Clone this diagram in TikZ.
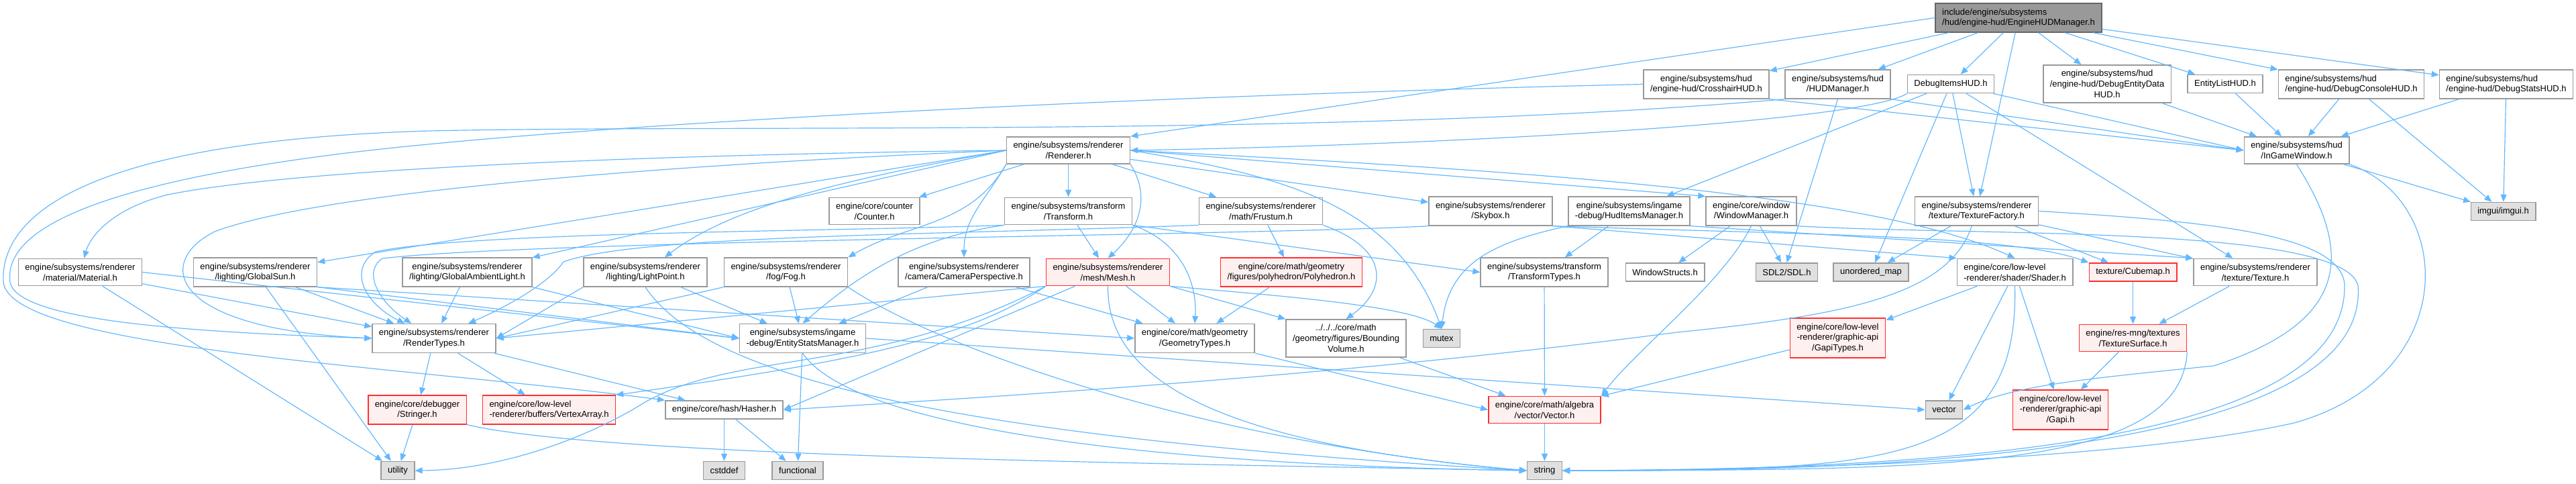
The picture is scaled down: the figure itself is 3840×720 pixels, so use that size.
\documentclass[tikz,border=0pt]{standalone}
\usepackage{fontspec}
\setmainfont{Liberation Sans}
\usetikzlibrary{arrows.meta}
\definecolor{edgeblue}{HTML}{63B8FF}
\definecolor{boxgray}{HTML}{999999}
\definecolor{rootgray}{HTML}{666666}
\definecolor{sysgray}{HTML}{E0E0E0}
\definecolor{truncpink}{HTML}{FFF0F0}
\definecolor{truncred}{HTML}{FF3030}

\begin{document}
\begin{tikzpicture}[
  x=1pt, y=-1pt,
  file/.style={draw=boxgray, fill=white, line width=1.5pt, align=center, inner xsep=10pt, inner ysep=7.5pt, minimum height=27pt, font=\fontsize{13}{15.7}\selectfont},
  rootfile/.style={file, draw=rootgray, fill=boxgray, align=left},
  sysfile/.style={file, fill=sysgray},
  truncfile/.style={file, draw=truncred, fill=truncpink},
  incl/.style={edgeblue, line width=1.2pt, -{Triangle[length=11pt,width=9pt]}}
]
\useasboundingbox (0,0) rectangle (3840,720);

\node[rootfile] (hudmgr) at (3009,26.5) {include/engine/subsystems\\/hud/engine-hud/EngineHUDManager.h};
\node[file] (crosshair) at (2543.5,125.5) {engine/subsystems/hud\\/engine-hud/CrosshairHUD.h};
\node[file] (hudman) at (2739.5,125.5) {engine/subsystems/hud\\/HUDManager.h};
\node[file] (dbgitems) at (2908,125) {DebugItemsHUD.h};
\node[file] (dbgentity) at (3141,125) {engine/subsystems/hud\\/engine-hud/DebugEntityData\\HUD.h};
\node[file] (entlist) at (3317,125) {EntityListHUD.h};
\node[file, align=left] (dbgconsole) at (3505,125.5) {engine/subsystems/hud\\/engine-hud/DebugConsoleHUD.h};
\node[file, align=left] (dbgstats) at (3736,125.5) {engine/subsystems/hud\\/engine-hud/DebugStatsHUD.h};
\node[file] (renderer) at (1592.5,224) {engine/subsystems/renderer\\/Renderer.h};
\node[file] (ingame) at (3423.5,224) {engine/subsystems/hud\\/InGameWindow.h};
\node[sysfile] (imgui) at (3731.5,315) {imgui/imgui.h};
\node[file] (counter) at (1303.5,314.5) {engine/core/counter\\/Counter.h};
\node[file] (transform) at (1592.5,314.5) {engine/subsystems/transform\\/Transform.h};
\node[file] (frustum) at (1879.5,314.5) {engine/subsystems/renderer\\/math/Frustum.h};
\node[file] (skybox) at (2222,314.5) {engine/subsystems/renderer\\/Skybox.h};
\node[file] (huditems) at (2428.5,314.5) {engine/subsystems/ingame\\-debug/HudItemsManager.h};
\node[file] (winmgr) at (2610.5,314.5) {engine/core/window\\/WindowManager.h};
\node[file] (texfactory) at (2946.5,314.5) {engine/subsystems/renderer\\/texture/TextureFactory.h};
\node[file] (material) at (119.5,405.5) {engine/subsystems/renderer\\/material/Material.h};
\node[file] (globalsun) at (380.5,405.5) {engine/subsystems/renderer\\/lighting/GlobalSun.h};
\node[file] (ambient) at (696.5,405.5) {engine/subsystems/renderer\\/lighting/GlobalAmbientLight.h};
\node[file] (lightpoint) at (962,405.5) {engine/subsystems/renderer\\/lighting/LightPoint.h};
\node[file] (fog) at (1171.5,405.5) {engine/subsystems/renderer\\/fog/Fog.h};
\node[file] (camera) at (1437,405.5) {engine/subsystems/renderer\\/camera/CameraPerspective.h};
\node[truncfile] (mesh) at (1651.5,405.5) {engine/subsystems/renderer\\/mesh/Mesh.h};
\node[truncfile] (polyhedron) at (1925,405.5) {engine/core/math/geometry\\/figures/polyhedron/Polyhedron.h};
\node[file] (transtypes) at (2302,405.5) {engine/subsystems/transform\\/TransformTypes.h};
\node[file] (winstructs) at (2482,405.5) {WindowStructs.h};
\node[sysfile] (sdl) at (2663.5,405.5) {SDL2/SDL.h};
\node[sysfile] (umap) at (2789,405.5) {unordered\_map};
\node[file, align=left] (shader) at (3003.5,405.5) {engine/core/low-level\\-renderer/shader/Shader.h};
\node[truncfile] (cubemap) at (3179.5,405.5) {texture/Cubemap.h};
\node[file] (texture) at (3362,405.5) {engine/subsystems/renderer\\/texture/Texture.h};
\node[file] (rendtypes) at (647,504) {engine/subsystems/renderer\\/RenderTypes.h};
\node[file] (entstats) at (1196.5,504) {engine/subsystems/ingame\\-debug/EntityStatsManager.h};
\node[file] (geomtypes) at (1781,504) {engine/core/math/geometry\\/GeometryTypes.h};
\node[file] (bounding) at (2006.5,504) {../../../core/math\\/geometry/figures/Bounding\\Volume.h};
\node[sysfile] (mutex) at (2149,504) {mutex};
\node[truncfile] (gapitypes) at (2739.5,503.5) {engine/core/low-level\\-renderer/graphic-api\\/GapiTypes.h};
\node[truncfile] (texsurface) at (3179.5,503.5) {engine/res-mng/textures\\/TextureSurface.h};
\node[truncfile] (stringer) at (622,610.5) {engine/core/debugger\\/Stringer.h};
\node[truncfile, align=left] (vertexarray) at (818.5,610.5) {engine/core/low-level\\-renderer/buffers/VertexArray.h};
\node[file] (hasher) at (1079.5,610.5) {engine/core/hash/Hasher.h};
\node[truncfile] (vectorh) at (2302.5,610.5) {engine/core/math/algebra\\/vector/Vector.h};
\node[sysfile] (vectorstd) at (2898,610.5) {vector};
\node[truncfile] (gapi) at (3071.5,610.5) {engine/core/low-level\\-renderer/graphic-api\\/Gapi.h};
\node[sysfile] (utility) at (593,701) {utility};
\node[sysfile] (cstddef) at (1079.5,701) {cstddef};
\node[sysfile] (functional) at (1189,701) {functional};
\node[sysfile] (string) at (2302.5,701) {string};

\draw[incl] (hudmgr) -- (crosshair);
\draw[incl] (hudmgr) -- (hudman);
\draw[incl] (hudmgr) -- (dbgitems);
\draw[incl] (hudmgr) -- (dbgentity);
\draw[incl] (hudmgr) -- (entlist);
\draw[incl] (hudmgr) -- (dbgconsole);
\draw[incl] (hudmgr) -- (dbgstats);
\draw[incl] (hudmgr.west) -- (renderer.north east);
\draw[incl] (hudmgr) -- (texfactory);

\draw[incl] (crosshair.south east) -- (ingame.west);
\draw[incl] (crosshair.west) .. controls (1800,140) and (900,180) .. (500,230) .. controls (150,275) and (5,340) .. (15,420) .. controls (25,480) and (300,495) .. (rendtypes.west);
\draw[incl] (hudman.south east) -- (ingame.west);
\draw[incl] (hudman.south) -- (sdl.north);
\draw[incl] (hudman.south west) .. controls (2000,205) and (1100,185) .. (640,195) .. controls (130,210) and (0,320) .. (5,420) .. controls (15,520) and (600,545) .. (hasher.north west);
\draw[incl] (dbgitems) -- (ingame.west);
\draw[incl] (dbgitems.south west) .. controls (2780,180) and (2200,215) .. (renderer.east);
\draw[incl] (dbgitems) -- (huditems);
\draw[incl] (dbgitems) -- (umap);
\draw[incl] (dbgitems) -- (texfactory);
\draw[incl] (dbgitems) -- (texture);
\draw[incl] (dbgentity) -- (ingame);
\draw[incl] (entlist) -- (ingame);
\draw[incl] (dbgconsole) -- (ingame);
\draw[incl] (dbgconsole) -- (imgui);
\draw[incl] (dbgstats) -- (ingame);
\draw[incl] (dbgstats) -- (imgui);

\draw[incl] (ingame) -- (imgui);
\draw[incl] (ingame.south east) .. controls (3660,300) and (3670,560) .. (3420,630) .. controls (3150,690) and (2600,700) .. (string.east);
\draw[incl] (ingame.south) .. controls (3510,380) and (3500,480) .. (3300,545) .. controls (3100,565) and (3000,575) .. (vectorstd.east);

\draw[incl] (renderer) -- (counter);
\draw[incl] (renderer) -- (transform);
\draw[incl] (renderer) -- (frustum);
\draw[incl] (renderer) -- (skybox);
\draw[incl] (renderer.east) -- (winmgr.north west);
\draw[incl] (renderer.west) .. controls (1000,230) and (450,250) .. (250,290) .. controls (170,310) and (135,350) .. (material);
\draw[incl] (renderer.west) .. controls (1000,245) and (480,285) .. (320,345) .. controls (230,390) and (250,490) .. (rendtypes.west);
\draw[incl] (renderer.west) -- (globalsun);
\draw[incl] (renderer.west) -- (ambient);
\draw[incl] (renderer.west) .. controls (1300,260) and (1100,300) .. (lightpoint);
\draw[incl] (renderer.south west) .. controls (1446,338) and (1357,330) .. (fog.north east);
\draw[incl] (renderer.south west) .. controls (1470,297) and (1437,324) .. (camera.north);
\draw[incl] (renderer.south east) .. controls (1720,300) and (1690,350) .. (mesh.north);
\draw[incl] (renderer.east) .. controls (1900,260) and (2080,300) .. (mutex.north);
\draw[incl] (renderer.east) .. controls (2300,255) and (2800,290) .. (shader.north);

\draw[incl] (transform) -- (mesh);
\draw[incl] (transform.south east) .. controls (1760,360) and (1785,420) .. (geomtypes.north);
\draw[incl] (transform.south east) -- (transtypes.west);
\draw[incl] (transform.south west) .. controls (1360,355) and (1280,410) .. (entstats.north);
\draw[incl] (transform.south west) .. controls (1250,345) and (700,345) .. (560,375) .. controls (520,400) and (540,450) .. (rendtypes);
\draw[incl] (frustum) -- (polyhedron);
\draw[incl] (frustum.south east) .. controls (2070,370) and (2070,430) .. (bounding.north);
\draw[incl] (frustum.south west) .. controls (1400,350) and (950,350) .. (840,390) .. controls (820,420) and (760,455) .. (rendtypes);
\draw[incl] (skybox.south west) .. controls (1900,350) and (800,358) .. (570,385) .. controls (540,405) and (565,450) .. (rendtypes);
\draw[incl] (skybox.south east) -- (shader.north west);
\draw[incl] (skybox.south east) .. controls (2700,350) and (3000,350) .. (cubemap.north west);
\draw[incl] (huditems) -- (transtypes);
\draw[incl] (huditems.south west) .. controls (2230,360) and (2160,390) .. (mutex.north);
\draw[incl] (huditems.south east) -- (texture.north west);
\draw[incl] (winmgr) -- (winstructs);
\draw[incl] (winmgr) -- (sdl);
\draw[incl] (winmgr.south) .. controls (2570,420) and (2440,520) .. (vectorh.north east);
\draw[incl] (winmgr.south east) .. controls (2950,352) and (3490,335) .. (3515,425) .. controls (3530,620) and (3100,705) .. (string.east);
\draw[incl] (texfactory) -- (umap);
\draw[incl] (texfactory) -- (cubemap);
\draw[incl] (texfactory) -- (texture);
\draw[incl] (texfactory) .. controls (2905,440) and (2750,470) .. (2500,495) .. controls (2000,560) and (1500,590) .. (hasher.east);
\draw[incl] (texfactory.east) .. controls (3300,330) and (3500,350) .. (3495,430) .. controls (3490,620) and (3100,700) .. (string.east);

\draw[incl] (material) -- (rendtypes);
\draw[incl] (material.east) -- (entstats.west);
\draw[incl] (material) -- (utility);
\draw[incl] (globalsun) -- (rendtypes);
\draw[incl] (globalsun.south east) -- (entstats.west);
\draw[incl] (globalsun.south east) -- (geomtypes.west);
\draw[incl] (globalsun) -- (utility);
\draw[incl] (ambient) -- (rendtypes);
\draw[incl] (ambient.south east) -- (entstats.west);
\draw[incl] (lightpoint.south west) -- (rendtypes.east);
\draw[incl] (lightpoint) -- (entstats);
\draw[incl] (lightpoint.south) .. controls (1050,560) and (1400,650) .. (string.west);
\draw[incl] (fog.south west) -- (rendtypes.east);
\draw[incl] (fog) -- (entstats);
\draw[incl] (fog.south east) .. controls (1400,520) and (1800,660) .. (string.west);
\draw[incl] (camera) -- (geomtypes);
\draw[incl] (camera) -- (entstats);

\draw[incl] (mesh.south west) -- (rendtypes.east);
\draw[incl] (mesh) -- (geomtypes);
\draw[incl] (mesh.south west) .. controls (1450,500) and (1300,535) .. (vertexarray.north east);
\draw[incl] (mesh) -- (hasher.east);
\draw[incl] (mesh.south west) .. controls (1300,560) and (1100,520) .. (960,600) .. controls (880,650) and (750,700) .. (utility.east);
\draw[incl] (mesh.south) .. controls (1650,560) and (1800,660) .. (string.west);
\draw[incl] (mesh.south east) -- (bounding.north west);
\draw[incl] (mesh.south east) .. controls (1900,440) and (2100,455) .. (mutex.north);
\draw[incl] (polyhedron) -- (geomtypes);

\draw[incl] (rendtypes) -- (stringer);
\draw[incl] (rendtypes) -- (vertexarray);
\draw[incl] (rendtypes) -- (hasher);
\draw[incl] (entstats) -- (functional);
\draw[incl] (entstats.east) -- (vectorstd.west);
\draw[incl] (entstats.south) .. controls (1260,620) and (1600,690) .. (string.west);
\draw[incl] (geomtypes.south east) -- (vectorh.west);
\draw[incl] (bounding) -- (vectorh);
\draw[incl] (transtypes) -- (vectorh);
\draw[incl] (gapitypes) -- (vectorh);
\draw[incl] (shader) -- (gapitypes);
\draw[incl] (shader) -- (vectorstd);
\draw[incl] (shader) -- (gapi);
\draw[incl] (shader.south) .. controls (3010,700) and (2800,700) .. (string.east);
\draw[incl] (cubemap) -- (texsurface);
\draw[incl] (texture) -- (texsurface);
\draw[incl] (texsurface) -- (gapi);
\draw[incl] (texsurface.south east) .. controls (3250,700) and (2900,700) .. (string.east);

\draw[incl] (stringer) -- (utility);
\draw[incl] (stringer.south east) .. controls (900,680) and (1700,690) .. (string.west);
\draw[incl] (hasher) -- (cstddef);
\draw[incl] (hasher) -- (functional);
\draw[incl] (vectorh) -- (string);
\end{tikzpicture}
\end{document}
